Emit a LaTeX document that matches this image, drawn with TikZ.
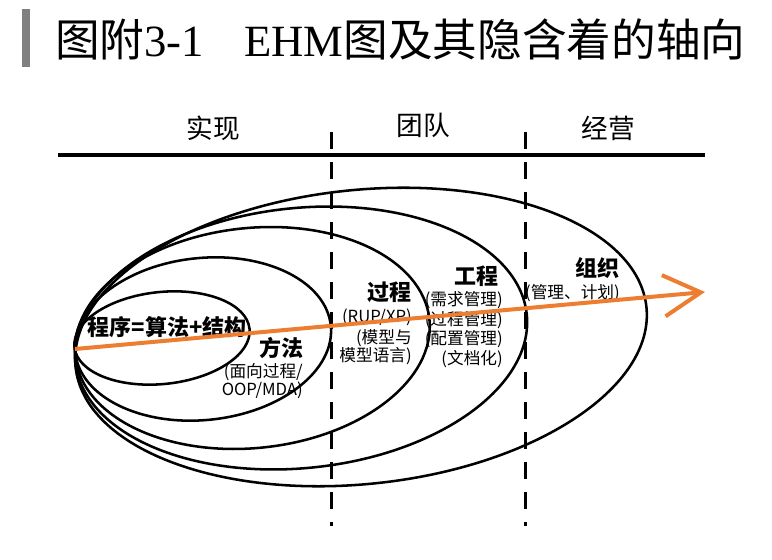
\documentclass[tikz,border=0pt]{standalone}
\usepackage{fontspec}
\setmainfont{Noto Sans CJK SC}
\newfontfamily\kai{Noto Sans CJK SC}
\newfontfamily\tserif{Liberation Serif}
\usetikzlibrary{arrows.meta}
\definecolor{arroworange}{RGB}{237,125,49}
\definecolor{bargray}{RGB}{128,128,128}
\begin{document}
\begin{tikzpicture}[x=0.75pt,y=-0.75pt,
  ell/.style={draw=black, line width=1.9pt},
  axisline/.style={draw=black, line width=2.4pt},
  divider/.style={draw=black, line width=2.6pt, dash pattern=on 12.75pt off 9.75pt},
  axisarrow/.style={draw=arroworange, line width=3pt, -{Straight Barb[length=28pt,width=31pt]}},
  head/.style={font=\fontsize{20}{24}\selectfont, inner sep=0pt},
  mainlbl/.style={font=\bfseries\fontsize{16.5}{20}\selectfont, inner sep=0pt},
  sublbl/.style={font=\fontsize{12.5}{15}\selectfont, inner sep=0pt}]
\useasboundingbox (0,0) rectangle (772,560);
% title
\fill[bargray] (22,9) rectangle (30,67);
\node[anchor=base west, inner sep=0pt, font=\fontsize{33.5}{36}\selectfont] (title) at (55,57)
  {{\kai 图附}{\tserif 3-1}\hspace{0.9em}{\tserif EHM}{\kai 图及其隐含着的轴向}};
% column heads
\node[head] (h1) at (213,128) {实现};
\node[head] (h2) at (423,125) {团队};
\node[head] (h3) at (608,128) {经营};
% axis line
\coordinate (lineL) at (58,155);
\coordinate (lineR) at (705,155);
\draw[axisline] (lineL) -- (lineR);
% dividers
\coordinate (d1t) at (331.5,132);
\coordinate (d1b) at (331.5,526);
\coordinate (d2t) at (525.5,132);
\coordinate (d2b) at (525.5,526);
\draw[divider] (d1t) -- (d1b);
\draw[divider] (d2t) -- (d2b);
% ellipses
\draw[ell, rotate around={6:(162,338)}] (162,338) ellipse [x radius=88, y radius=46];
\draw[ell, rotate around={6:(203,339)}] (203,339) ellipse [x radius=128.5, y radius=81];
\draw[ell, rotate around={6:(252.4,338)}] (252.4,338) ellipse [x radius=178, y radius=110];
\draw[ell, rotate around={6:(301,338)}] (301,338) ellipse [x radius=227, y radius=130];
\draw[ell, rotate around={6:(361,337)}] (361,337) ellipse [x radius=287, y radius=147];
% labels
\node[mainlbl] (l1) at (167,327) {程序=算法+结构};
\node[mainlbl] (l2) at (281,348) {方法};
\node[sublbl, anchor=east] (l2a) at (303,372) {(面向过程/};
\node[sublbl, anchor=east] (l2b) at (303,390) {OOP/MDA)};
\node[mainlbl] (l3) at (389,292) {过程};
\node[sublbl, anchor=east] (l3a) at (412,317) {(RUP/XP)};
\node[sublbl, anchor=east] (l3b) at (412,338) {(模型与};
\node[sublbl, anchor=east] (l3c) at (412,356) {模型语言)};
\node[mainlbl] (l4) at (476,276) {工程};
\node[sublbl, anchor=east] (l4a) at (503,300) {(需求管理)};
\node[sublbl, anchor=east] (l4b) at (503,320) {(过程管理)};
\node[sublbl, anchor=east] (l4c) at (503,339) {(配置管理)};
\node[sublbl, anchor=east] (l4d) at (503,359) {(文档化)};
\node[mainlbl] (l5) at (597,268) {组织};
\node[sublbl, anchor=east] (l5a) at (620,293) {(管理、计划)};
% arrow
\coordinate (arrowstart) at (75,349);
\coordinate (arrowtip) at (705,292);
\draw[axisarrow] (arrowstart) -- (arrowtip);
\end{tikzpicture}
\end{document}
